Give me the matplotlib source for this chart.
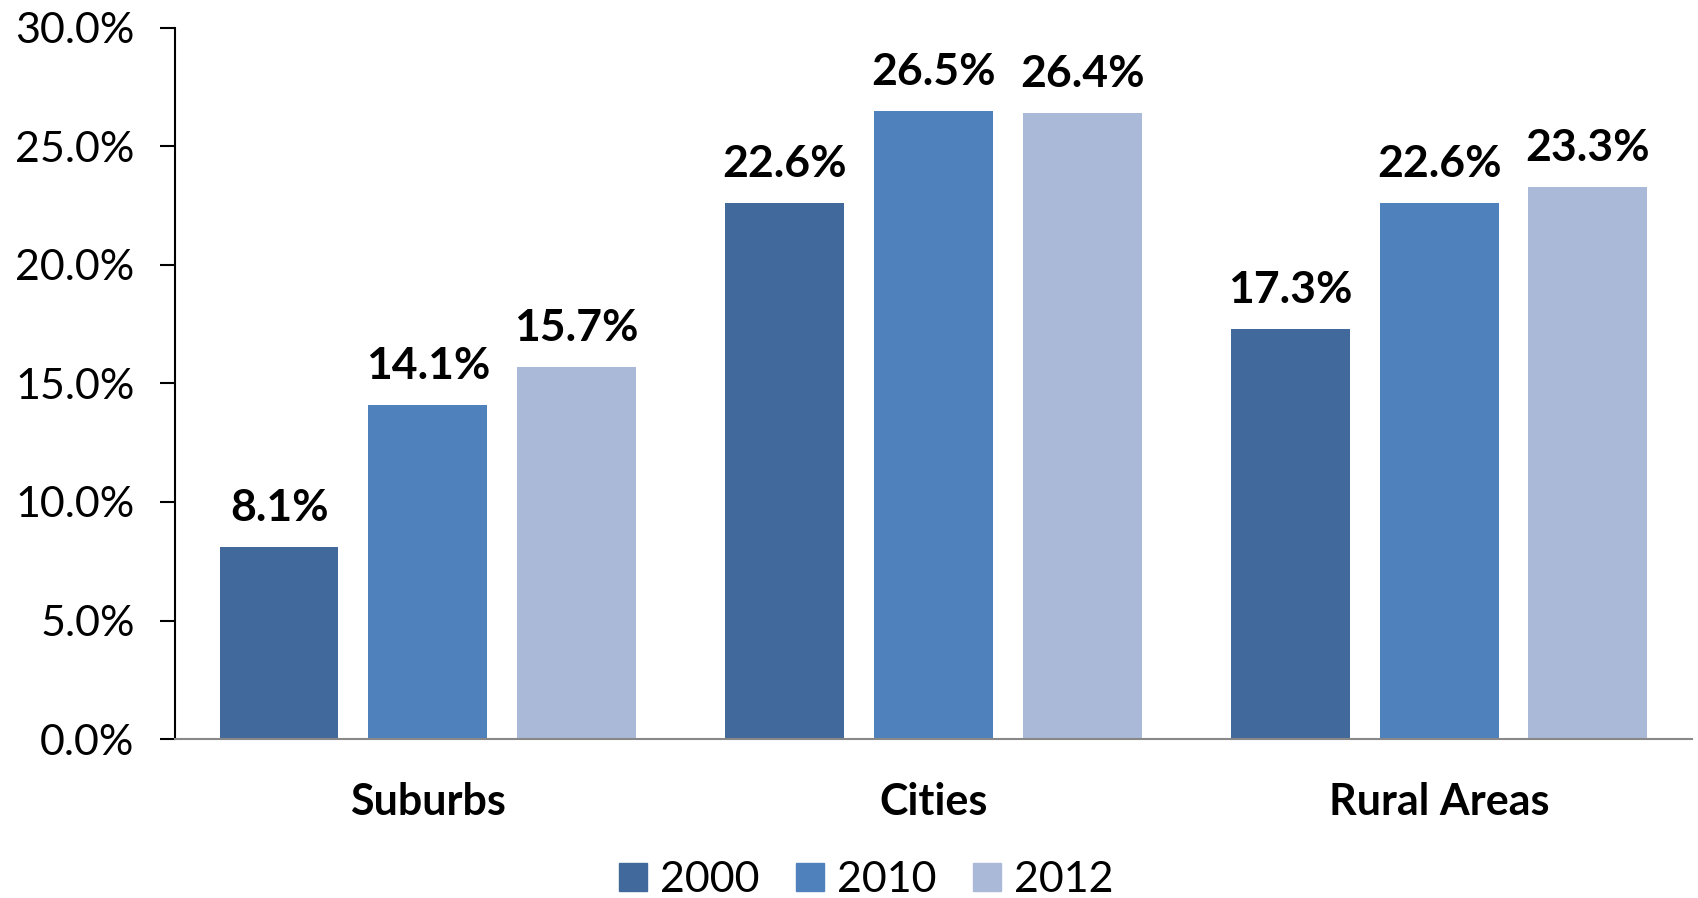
import matplotlib
matplotlib.use("Agg")
import matplotlib.pyplot as plt
from matplotlib.patches import Patch
from matplotlib.ticker import FuncFormatter
import numpy as np

categories = ["Suburbs", "Cities", "Rural Areas"]
years = ["2000", "2010", "2012"]
v2000 = [8.1, 22.6, 17.3]
v2010 = [14.1, 26.5, 22.6]
v2012 = [15.7, 26.4, 23.3]
colors = ["#41699B", "#4F81BD", "#AAB9D7"]

plt.rcParams['font.family'] = ['Lato', 'DejaVu Sans']

fig = plt.figure(figsize=(16.98, 8.98), dpi=100)
ax = fig.add_axes([0.103, 0.177, 0.8935, 0.792])

x = np.arange(len(categories))
width = 0.235
step = 0.294

for i, (vals, c) in enumerate(zip([v2000, v2010, v2012], colors)):
    xs = x + (i - 1) * step
    bars = ax.bar(xs, vals, width, color=c)
    for b, v in zip(bars, vals):
        ax.annotate(f"{v:.1f}%", (b.get_x() + b.get_width() / 2, v),
                    xytext=(0, 28), textcoords="offset points",
                    ha="center", va="center", fontsize=32, fontweight="bold")

ax.set_xlim(-0.5, 2.5)
ax.set_ylim(0, 30)
ax.set_yticks(np.arange(0, 31, 5))
ax.yaxis.set_major_formatter(FuncFormatter(lambda v, p: f"{v:.1f}%"))
ax.tick_params(axis="y", labelsize=31, length=11, width=1.5, pad=18)
ax.set_xticks(x)
ax.set_xticklabels(categories, fontsize=31, fontweight="bold")
ax.tick_params(axis="x", length=0, pad=31)

ax.spines["top"].set_visible(False)
ax.spines["right"].set_visible(False)
ax.spines["left"].set_linewidth(1.5)
ax.spines["bottom"].set_color("#888888")
ax.spines["bottom"].set_linewidth(1.5)

handles = [Patch(color=c, label=y) for c, y in zip(colors, years)]
fig.legend(handles=handles, loc="center", bbox_to_anchor=(0.51, 0.02), ncol=3,
           frameon=False, fontsize=31, handlelength=0.65, handleheight=0.65,
           handletextpad=0.3, columnspacing=0.85, borderpad=0.1)

fig.savefig("out.png", dpi=100)
plt.close(fig)
